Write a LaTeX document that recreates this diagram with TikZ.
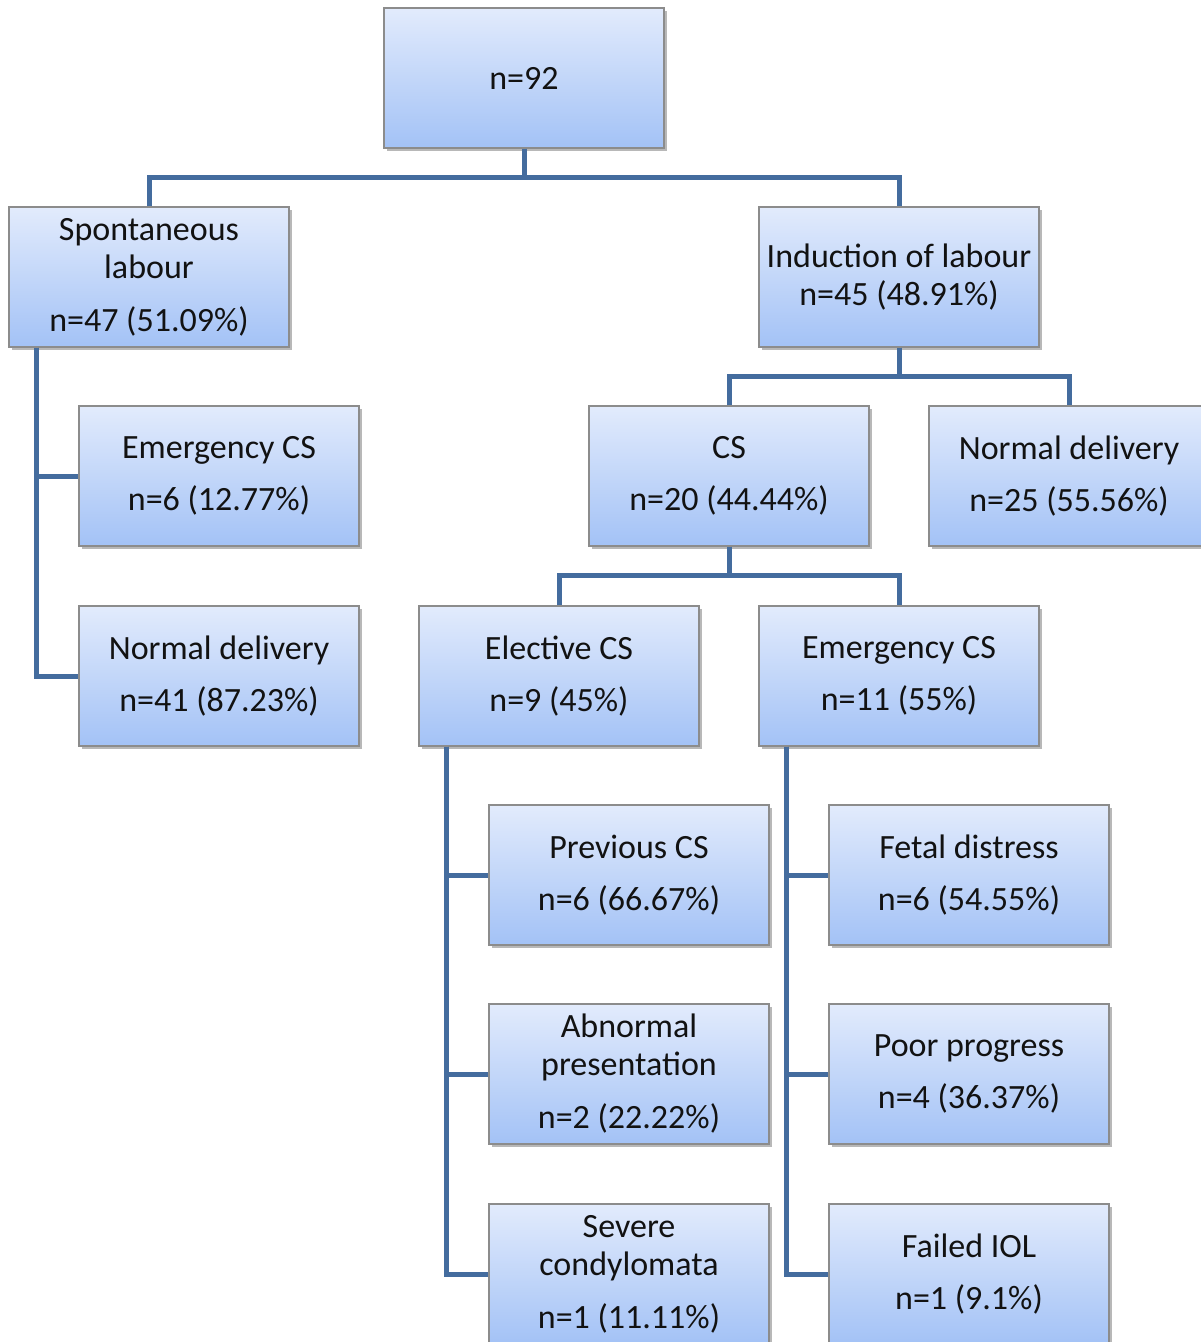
\documentclass[tikz,border=0pt]{standalone}
\usepackage{fontspec}
\setmainfont{Carlito}
\usetikzlibrary{shadows,calc}
\definecolor{conncol}{RGB}{68,108,158}
\definecolor{boxtop}{RGB}{226,235,252}
\definecolor{boxbot}{RGB}{163,194,246}
\definecolor{boxline}{RGB}{140,140,140}
\tikzset{
  box/.style={draw=boxline, line width=1.2pt, top color=boxtop, bottom color=boxbot,
    minimum width=280pt, minimum height=140pt, inner sep=0pt, align=center,
    font=\fontsize{34}{38}\selectfont, text=black!93,
    drop shadow={shadow xshift=3pt, shadow yshift=-3pt, fill=black, opacity=0.28}},
  conn/.style={draw=conncol, line width=5pt}
}
\begin{document}
\begin{tikzpicture}[x=1pt,y=-1pt]
\useasboundingbox (0,0) rectangle (1201,1342);
\clip (0,0) rectangle (1201,1342);
\node[box] (top) at (524,78) {n=92};
\node[box] (spont) at (149,277) {Spontaneous\\labour\\[15pt]n=47 (51.09\%)};
\node[box] (ind) at (899,277) {Induction of labour\\n=45 (48.91\%)};
\node[box] (ecsl) at (219,476) {Emergency CS\\[14pt]n=6 (12.77\%)};
\node[box] (ndl) at (219,676) {Normal delivery\\[14pt]n=41 (87.23\%)};
\node[box] (cs) at (729,476) {CS\\[14pt]n=20 (44.44\%)};
\node[box] (ndr) at (1069,476) {Normal delivery\\[14pt]n=25 (55.56\%)};
\node[box] (el) at (559,676) {Elective CS\\[14pt]n=9 (45\%)};
\node[box] (em) at (899,676) {Emergency CS\\[14pt]n=11 (55\%)};
\node[box] (prev) at (629,875) {Previous CS\\[14pt]n=6 (66.67\%)};
\node[box] (abn) at (629,1074) {Abnormal\\presentation\\[15pt]n=2 (22.22\%)};
\node[box] (sev) at (629,1274) {Severe\\condylomata\\[15pt]n=1 (11.11\%)};
\node[box] (fet) at (969,875) {Fetal distress\\[14pt]n=6 (54.55\%)};
\node[box] (poor) at (969,1074) {Poor progress\\[14pt]n=4 (36.37\%)};
\node[box] (fail) at (969,1274) {Failed IOL\\[14pt]n=1 (9.1\%)};
% connectors
\begin{scope}[on background layer/.style={}]
\end{scope}
\coordinate (b1) at ($(top.south)+(0,29)$);
\draw[conn] (top.south) -- (b1);
\draw[conn] (spont.north) |- (b1) -| (ind.north);
\coordinate (b2) at ($(ind.south)+(0,29)$);
\draw[conn] (ind.south) -- (b2);
\draw[conn] (cs.north) |- (b2) -| (ndr.north);
\coordinate (b3) at ($(cs.south)+(0,29)$);
\draw[conn] (cs.south) -- (b3);
\draw[conn] (el.north) |- (b3) -| (em.north);
\coordinate (sl) at ($(spont.south west)+(28,0)$);
\draw[conn] (sl) |- (ecsl.west);
\draw[conn] (sl) |- (ndl.west);
\coordinate (el1) at ($(el.south west)+(28,0)$);
\draw[conn] (el1) |- (prev.west);
\draw[conn] (el1) |- (abn.west);
\draw[conn] (el1) |- (sev.west);
\coordinate (em1) at ($(em.south west)+(28,0)$);
\draw[conn] (em1) |- (fet.west);
\draw[conn] (em1) |- (poor.west);
\draw[conn] (em1) |- (fail.west);
\end{tikzpicture}
\end{document}
